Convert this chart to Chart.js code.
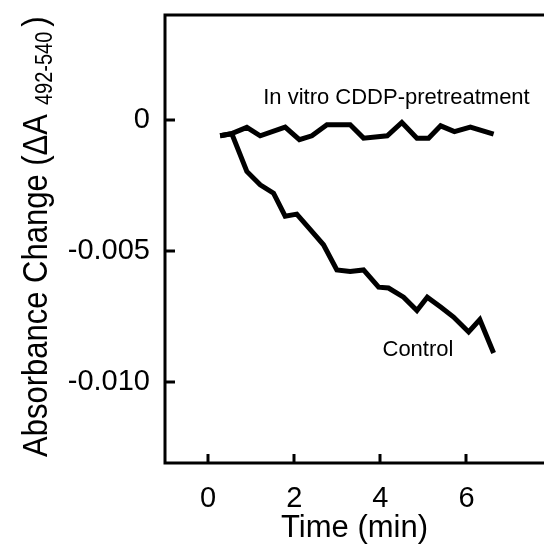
<!DOCTYPE html>
<html>
<head>
<meta charset="utf-8">
<script src="https://cdn.jsdelivr.net/npm/chart.js@4/dist/chart.umd.min.js"></script>
<style>
  html, body { margin: 0; padding: 0; background: #fff; }
  #wrap { width: 544px; height: 553px; }
</style>
</head>
<body>
<div id="wrap"><canvas id="myChart" width="544" height="553"></canvas></div>
<script>
// datos (tiempo en min, cambio de absorbancia)
var tiempo_control = [0.28, 0.55, 0.90, 1.21, 1.52, 1.79, 2.06, 2.41, 2.68, 2.99, 3.30, 3.61, 3.96, 4.19, 4.54, 4.85, 5.09, 5.40, 5.70, 6.05, 6.31, 6.63];
var abs_control = [-0.00061, -0.00053, -0.00197, -0.00248, -0.00280, -0.00368, -0.00360, -0.00426, -0.00477, -0.00573, -0.00579, -0.00573, -0.00639, -0.00642, -0.00677, -0.00728, -0.00677, -0.00715, -0.00753, -0.00810, -0.00763, -0.00890];
var tiempo_cddp = [0.28, 0.55, 0.90, 1.21, 1.79, 2.12, 2.41, 2.76, 3.30, 3.61, 4.16, 4.50, 4.85, 5.12, 5.40, 5.72, 6.09, 6.63];
var abs_cddp = [-0.00061, -0.00053, -0.00029, -0.00061, -0.00028, -0.00076, -0.00061, -0.00019, -0.00019, -0.00070, -0.00061, -0.00010, -0.00070, -0.00070, -0.00023, -0.00045, -0.00028, -0.00055];
var ticks_x = [0, 2, 4, 6];
var ticks_y = [0, -0.005, -0.010];
var etiquetas = ['In vitro CDDP-pretreatment', 'Control'];

var FUENTE = "'Liberation Sans', Arial, Helvetica, sans-serif";

var puntos = function (xs, ys) {
    var res = [];
    xs.forEach((x, i) => res.push({ x: x, y: ys[i] }));
    return res;
}

// marco, marcas hacia adentro, titulos y textos
var decoracion = {
    id: 'decoracion',
    afterDraw: function (chart) {
        var ctx = chart.ctx;
        var a = chart.chartArea;
        var sx = chart.scales.x;
        var sy = chart.scales.y;
        ctx.save();
        ctx.strokeStyle = '#000';
        ctx.lineWidth = 3;
        ctx.beginPath();
        ctx.moveTo(chart.width, a.top);
        ctx.lineTo(a.left, a.top);
        ctx.lineTo(a.left, a.bottom);
        ctx.lineTo(chart.width, a.bottom);
        ctx.stroke();

        ticks_x.forEach(v => {
            var px = Math.round(sx.getPixelForValue(v));
            ctx.beginPath();
            ctx.moveTo(px, a.bottom);
            ctx.lineTo(px, a.bottom - 9);
            ctx.stroke();
        });
        ticks_y.forEach(v => {
            var py = Math.round(sy.getPixelForValue(v));
            ctx.beginPath();
            ctx.moveTo(a.left, py);
            ctx.lineTo(a.left + 10, py);
            ctx.stroke();
        });

        ctx.fillStyle = '#000';
        // anotaciones
        ctx.font = '22px ' + FUENTE;
        ctx.textAlign = 'left';
        ctx.textBaseline = 'middle';
        ctx.fillText(etiquetas[0], sx.getPixelForValue(1.28), sy.getPixelForValue(0.00083));
        ctx.fillText(etiquetas[1], sx.getPixelForValue(4.05), sy.getPixelForValue(-0.00880));

        // titulo eje x (centrado en el area del grafico)
        ctx.font = '31px ' + FUENTE;
        ctx.textAlign = 'center';
        ctx.textBaseline = 'alphabetic';
        ctx.fillText('Time (min)', (a.left + a.right) / 2, 537);

        // titulo eje y con subindice (letras algo mas altas que anchas)
        ctx.translate(47, 457);
        ctx.rotate(-Math.PI / 2);
        ctx.scale(1, 1.15);
        var t1 = 'Absorbance Change (\u0394A';
        var t2 = '492-540';
        var t3 = ')';
        ctx.textAlign = 'left';
        ctx.font = '31px ' + FUENTE;
        var w1 = ctx.measureText(t1).width;
        ctx.fillText(t1, 0, 0);
        ctx.font = '20px ' + FUENTE;
        var w2 = ctx.measureText(t2).width;
        ctx.fillText(t2, w1 + 9, 4);
        ctx.font = '31px ' + FUENTE;
        ctx.fillText(t3, w1 + 9 + w2 + 5, 0);
        ctx.restore();
    }
};

var sinRelleno = function (scale) {
    scale.paddingTop = 0;
    scale.paddingBottom = 0;
    scale.paddingLeft = 0;
    scale.paddingRight = 0;
}

var ctx = document.getElementById('myChart');
var myChart = new Chart(ctx, {
    type: 'line',
    data: {
        datasets: [
            {
                label: 'Control',
                data: puntos(tiempo_control, abs_control),
                borderColor: '#000',
                borderWidth: 5,
                pointRadius: 0,
                tension: 0,
                fill: false
            },
            {
                label: 'In vitro CDDP-pretreatment',
                data: puntos(tiempo_cddp, abs_cddp),
                borderColor: '#000',
                borderWidth: 5,
                pointRadius: 0,
                tension: 0,
                fill: false
            }
        ]
    },
    plugins: [decoracion],
    options: {
        responsive: false,
        animation: false,
        devicePixelRatio: 1,
        layout: { padding: { top: 15, right: 0, left: 0, bottom: 0 } },
        plugins: {
            legend: { display: false },
            tooltip: { enabled: false }
        },
        scales: {
            x: {
                type: 'linear',
                min: -1,
                max: 7.8,
                afterFit: function (scale) { scale.height = 90; sinRelleno(scale); },
                afterBuildTicks: function (scale) { scale.ticks = ticks_x.map(v => ({ value: v })); },
                grid: { display: false, drawTicks: false },
                border: { display: false },
                ticks: {
                    color: '#000',
                    padding: 19,
                    maxRotation: 0,
                    font: { family: FUENTE, size: 29 },
                    callback: function (v) { return String(v); }
                }
            },
            y: {
                type: 'linear',
                min: -0.0131,
                max: 0.0040,
                afterFit: function (scale) { scale.width = 165; sinRelleno(scale); },
                afterBuildTicks: function (scale) { scale.ticks = ticks_y.map(v => ({ value: v })); },
                grid: { display: false, drawTicks: false },
                border: { display: false },
                ticks: {
                    color: '#000',
                    padding: 15,
                    font: { family: FUENTE, size: 29 },
                    callback: function (v) { return v === 0 ? '0' : v.toFixed(3); }
                }
            }
        }
    }
});
</script>
</body>
</html>
